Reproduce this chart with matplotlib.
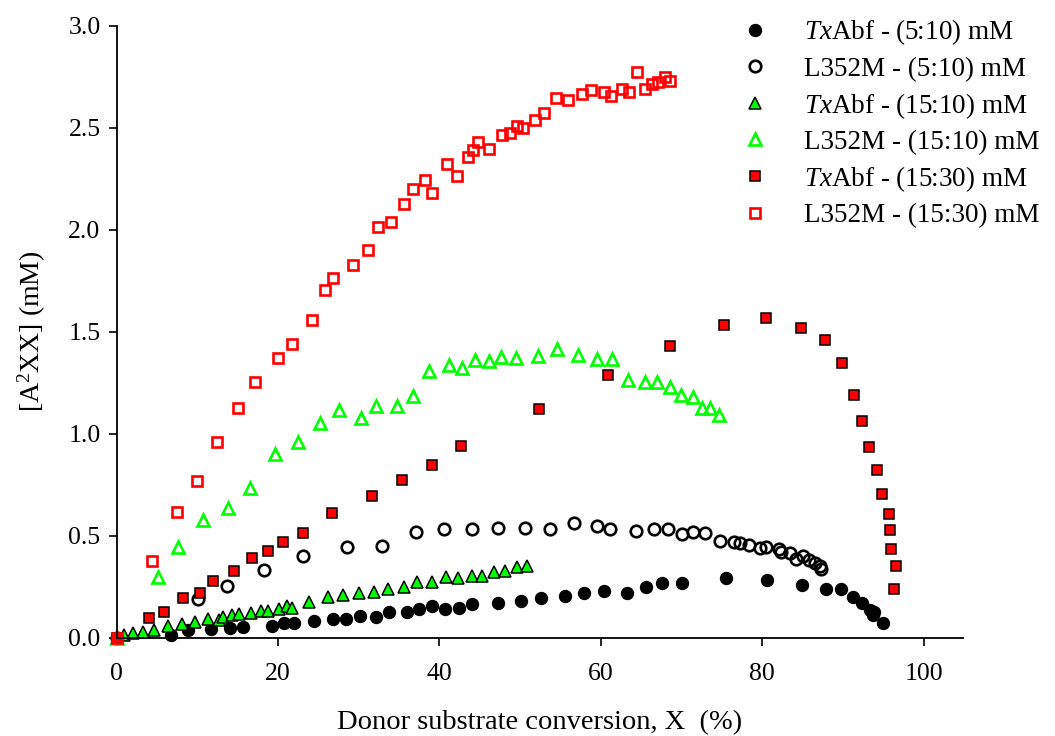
import matplotlib
matplotlib.use('Agg')
import matplotlib.pyplot as plt

# fonts - Times-like look
plt.rcParams['font.family'] = ['Liberation Serif', 'DejaVu Serif']
plt.rcParams['mathtext.fontset'] = 'custom'
plt.rcParams['mathtext.rm'] = 'Liberation Serif'
plt.rcParams['mathtext.it'] = 'Liberation Serif:italic'

# data: X (%) and [A2XX] (mM)
txabf_5_10_x = [0, 6.8, 8.8, 11.7, 14.0, 15.7, 19.2, 20.8, 22.0, 24.4, 26.8, 28.4, 30.2, 32.1,
                33.7, 36.0, 37.5, 39.1, 40.7, 42.4, 44.0, 47.3, 50.1, 52.6, 55.6, 57.9, 60.4,
                63.2, 65.6, 67.6, 70.1, 75.5, 80.6, 84.9, 87.9, 89.7, 91.2, 92.3, 93.3, 93.9,
                93.7, 95.0]
txabf_5_10_y = [0, 0.013, 0.038, 0.043, 0.046, 0.054, 0.059, 0.070, 0.070, 0.083, 0.092, 0.092,
                0.106, 0.103, 0.124, 0.124, 0.139, 0.155, 0.139, 0.147, 0.164, 0.172, 0.181,
                0.193, 0.204, 0.217, 0.229, 0.217, 0.247, 0.266, 0.266, 0.294, 0.283, 0.258,
                0.237, 0.237, 0.198, 0.169, 0.136, 0.128, 0.112, 0.070]

l352m_5_10_x = [0, 10.09, 13.73, 18.31, 23.06, 28.57, 32.9, 37.04, 40.55, 44.02, 47.24, 50.63,
                53.68, 56.71, 59.52, 61.18, 64.4, 66.58, 68.28, 70.1, 71.42, 72.96, 74.73,
                76.47, 77.3, 78.36, 79.69, 80.52, 82.08, 82.33, 83.5, 84.16, 85.06, 85.8,
                86.55, 87.13, 87.26]
l352m_5_10_y = [0, 0.190, 0.253, 0.332, 0.402, 0.446, 0.448, 0.520, 0.531, 0.531, 0.539, 0.539,
                0.531, 0.561, 0.549, 0.531, 0.525, 0.531, 0.531, 0.508, 0.517, 0.515, 0.475,
                0.471, 0.466, 0.454, 0.438, 0.443, 0.433, 0.422, 0.414, 0.384, 0.400, 0.381,
                0.365, 0.351, 0.335]

txabf_15_10_x = [0, 0.87, 2.07, 3.23, 4.67, 6.33, 8.1, 9.76, 11.3, 12.65, 13.15, 14.3, 15.2,
                 16.7, 17.9, 18.8, 20.1, 21.1, 21.7, 23.8, 26.17, 28.03, 30.0, 31.95, 33.6,
                 35.67, 37.2, 39.1, 40.84, 42.28, 44.02, 45.3, 46.75, 48.1, 49.6, 50.89]
txabf_15_10_y = [0, 0.013, 0.025, 0.030, 0.038, 0.059, 0.067, 0.078, 0.090, 0.087, 0.103,
                 0.111, 0.115, 0.120, 0.131, 0.131, 0.139, 0.155, 0.144, 0.173, 0.201, 0.209,
                 0.217, 0.226, 0.237, 0.250, 0.275, 0.271, 0.296, 0.291, 0.302, 0.302, 0.324,
                 0.327, 0.345, 0.351]

l352m_15_10_x = [0, 5.17, 7.57, 10.7, 13.77, 16.5, 19.6, 22.49, 25.26, 27.57, 30.3, 32.16,
                 34.77, 36.67, 38.69, 41.23, 42.78, 44.35, 46.13, 47.66, 49.44, 52.2, 54.56,
                 57.2, 59.48, 61.42, 63.36, 65.43, 67.0, 68.6, 69.93, 71.42, 72.59, 73.58, 74.6]
l352m_15_10_y = [0, 0.299, 0.446, 0.575, 0.635, 0.733, 0.899, 0.958, 1.054, 1.116, 1.078,
                 1.137, 1.137, 1.186, 1.306, 1.339, 1.324, 1.361, 1.358, 1.377, 1.373, 1.381,
                 1.415, 1.387, 1.366, 1.366, 1.263, 1.253, 1.253, 1.230, 1.190, 1.178, 1.124,
                 1.124, 1.092]

txabf_15_30_x = [0, 4.05, 5.83, 8.18, 10.38, 11.9, 14.6, 16.79, 18.81, 20.58, 23.06, 26.66,
                 31.67, 35.42, 39.06, 42.7, 52.33, 60.88, 68.57, 75.2, 80.43, 84.77, 87.75,
                 89.82, 91.35, 92.42, 93.17, 94.16, 94.82, 95.65, 95.77, 95.97, 96.55, 96.35]
txabf_15_30_y = [0, 0.095, 0.126, 0.196, 0.218, 0.279, 0.327, 0.389, 0.427, 0.469, 0.515,
                 0.612, 0.693, 0.772, 0.845, 0.940, 1.121, 1.288, 1.430, 1.534, 1.569, 1.520,
                 1.459, 1.348, 1.188, 1.064, 0.936, 0.822, 0.704, 0.606, 0.526, 0.435, 0.351,
                 0.238]

l352m_15_30_x = [0, 4.4, 7.5, 9.92, 12.49, 15.0, 17.16, 19.97, 21.75, 24.23, 25.84, 26.83,
                 29.31, 31.09, 32.41, 34.02, 35.63, 36.75, 38.24, 39.1, 41.0, 42.24, 43.52,
                 44.14, 44.81, 46.13, 47.78, 48.69, 49.6, 50.39, 51.83, 52.95, 54.48, 55.97,
                 57.66, 58.82, 60.35, 61.22, 62.62, 63.53, 64.53, 65.43, 66.34, 67.08, 67.91,
                 68.62]
l352m_15_30_y = [0, 0.377, 0.614, 0.768, 0.959, 1.127, 1.252, 1.370, 1.438, 1.557, 1.703,
                 1.765, 1.827, 1.900, 2.015, 2.038, 2.124, 2.198, 2.242, 2.181, 2.324, 2.265,
                 2.358, 2.391, 2.428, 2.397, 2.464, 2.476, 2.508, 2.497, 2.538, 2.574, 2.644,
                 2.636, 2.665, 2.685, 2.676, 2.657, 2.690, 2.676, 2.775, 2.690, 2.713, 2.725,
                 2.750, 2.729]

x_ticks = [0, 20, 40, 60, 80, 100]
y_ticks = [0.0, 0.5, 1.0, 1.5, 2.0, 2.5, 3.0]

fig = plt.figure(figsize=(10.55, 7.36), dpi=100)
ax = fig.add_axes([0.1105, 0.1336, 0.8025, 0.8315])

red = '#ff0000'
green = '#00ff00'

series = [
    (txabf_5_10_x, txabf_5_10_y, r'$\mathit{Tx}$Abf - (5:10) mM',
     dict(marker='o', ms=8.6, mfc='black', mec='black', mew=1)),
    (l352m_5_10_x, l352m_5_10_y, 'L352M - (5:10) mM',
     dict(marker='o', ms=8.3, mfc='none', mec='black', mew=1.9)),
    (txabf_15_10_x, txabf_15_10_y, r'$\mathit{Tx}$Abf - (15:10) mM',
     dict(marker='^', ms=9, mfc=green, mec='black', mew=1.1)),
    (l352m_15_10_x, l352m_15_10_y, 'L352M - (15:10) mM',
     dict(marker='^', ms=9, mfc='none', mec=green, mew=1.9)),
    (txabf_15_30_x, txabf_15_30_y, r'$\mathit{Tx}$Abf - (15:30) mM',
     dict(marker='s', ms=7.8, mfc=red, mec='black', mew=1.1)),
    (l352m_15_30_x, l352m_15_30_y, 'L352M - (15:30) mM',
     dict(marker='s', ms=7.8, mfc='none', mec=red, mew=1.9)),
]
for xs, ys, name, style in series:
    ax.plot(xs, ys, linestyle='none', label=name, clip_on=False, **style)

ax.set_xlim(0, 104.9)
ax.set_ylim(0, 3.0)
ax.set_xticks(x_ticks)
ax.set_yticks(y_ticks)
ax.set_yticklabels([f'{v:.1f}' for v in y_ticks])
ax.spines['top'].set_visible(False)
ax.spines['right'].set_visible(False)
for s in ('left', 'bottom'):
    ax.spines[s].set_linewidth(1.3)
ax.tick_params(axis='both', direction='out', length=5.5, width=1.2, labelsize=18.5)
ax.tick_params(axis='x', pad=13)
ax.tick_params(axis='y', pad=6)

ax.set_xlabel('Donor substrate conversion, X  (%)', fontsize=20.5, labelpad=18)
ax.set_ylabel(r'[A$^2$XX] (mM)', fontsize=20, labelpad=15)

ax.legend(loc='upper left', bbox_to_anchor=(0.6964, 0.976), bbox_transform=fig.transFigure,
          frameon=False, fontsize=19.5, handlelength=1.5, handletextpad=1.06,
          labelspacing=0.34, borderpad=0, borderaxespad=0, numpoints=1)

fig.savefig('out.png', dpi=100)
